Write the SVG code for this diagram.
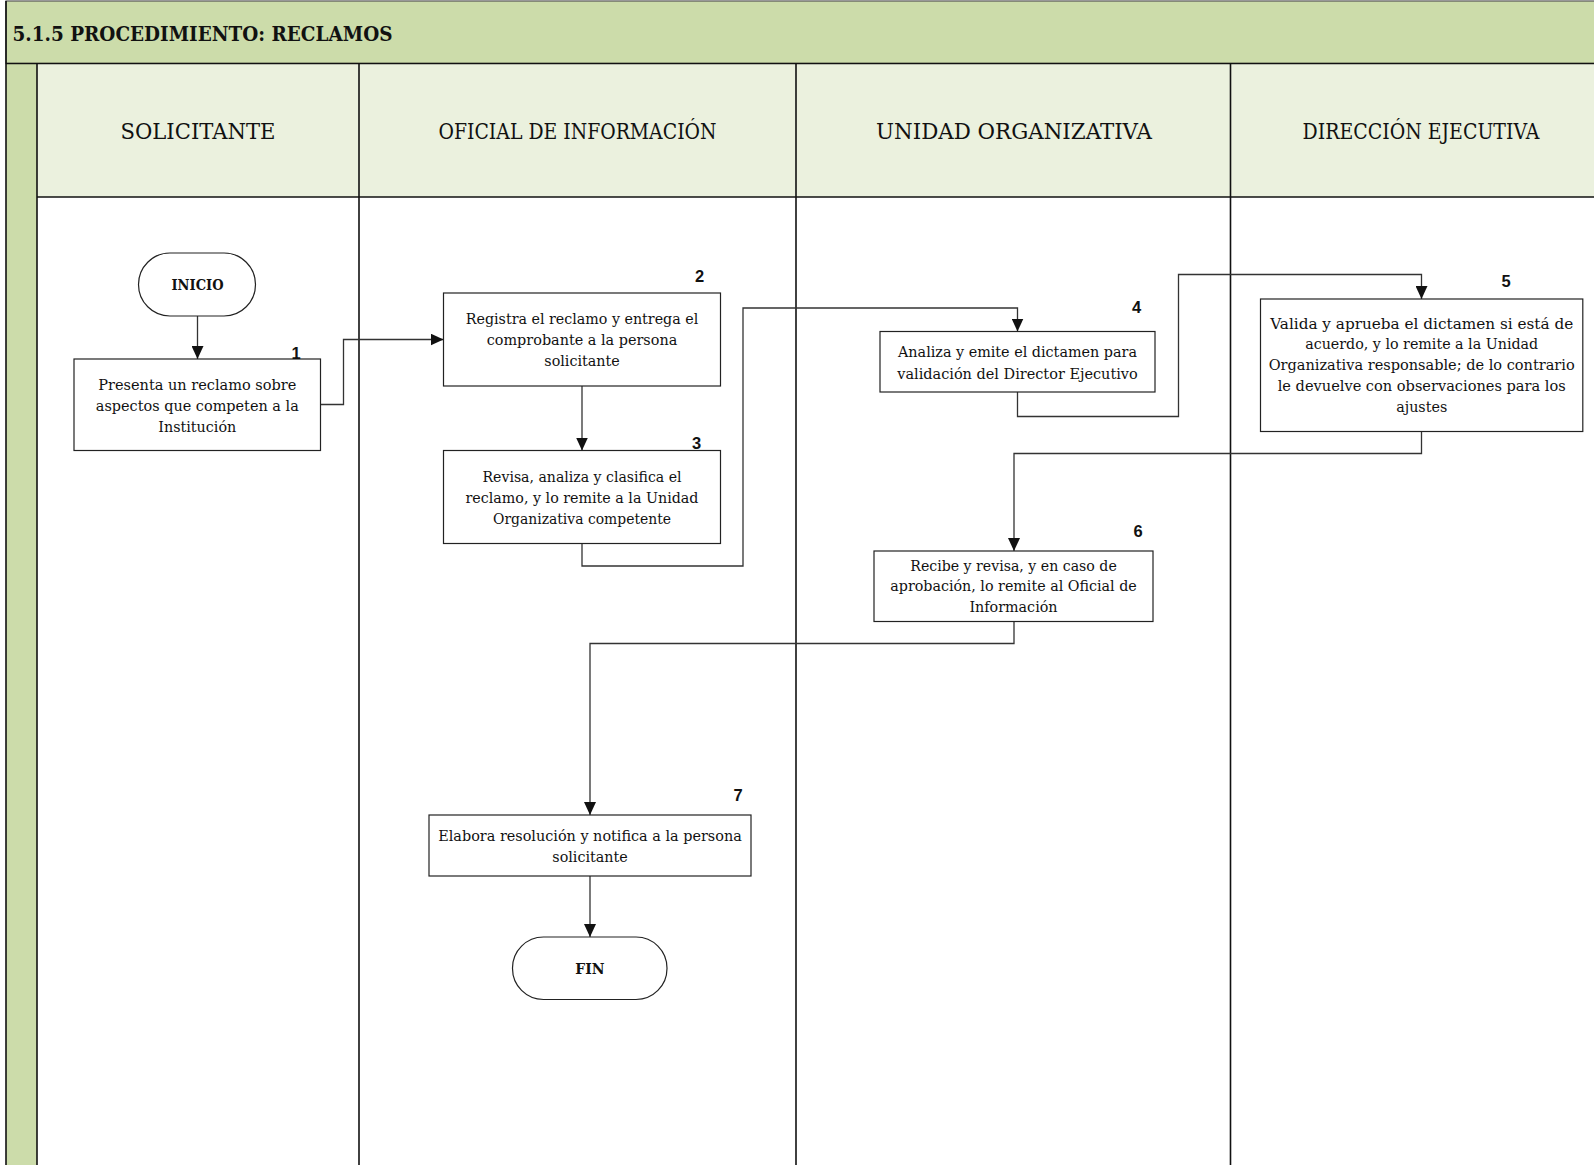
<svg xmlns="http://www.w3.org/2000/svg" width="1594" height="1165" viewBox="0 0 1594 1165">
  <style>
    .lane { fill: none; stroke: #111; stroke-width: 1.6; }
    .box { fill: #fff; stroke: #222; stroke-width: 1.2; }
    .conn { fill: none; stroke: #333; stroke-width: 1.3; }
    .txt { font-family: "DejaVu Serif", "Liberation Serif", serif; font-size: 14.3px; fill: #111; text-anchor: middle; }
    .term { font-family: "DejaVu Serif", "Liberation Serif", serif; font-size: 14px; font-weight: bold; fill: #111; text-anchor: middle; }
    .num { font-family: "Liberation Sans", Arial, sans-serif; font-size: 16.5px; font-weight: bold; fill: #111; text-anchor: middle; }
    .head { font-family: "DejaVu Serif", "Liberation Serif", serif; font-size: 23px; fill: #111; text-anchor: middle; }
    .title { font-family: "DejaVu Serif", "Liberation Serif", serif; font-size: 20px; font-weight: bold; fill: #111; }
  </style>
  <defs>
    <marker id="arrow" markerUnits="userSpaceOnUse" viewBox="0 0 13 12" markerWidth="13" markerHeight="12" refX="13" refY="6" orient="auto">
      <path d="M0,0 L13,6 L0,12 z" fill="#111"/>
    </marker>
  </defs>

  <rect x="0" y="0" width="1594" height="1165" fill="#fff"/>

  <!-- swimlane frame -->
  <g id="frame">
    <rect x="6" y="1" width="1600" height="62.5" fill="#CCDCAA" stroke="#555" stroke-width="1.2"/>
    <text class="title" x="12.5" y="40.5" textLength="380" lengthAdjust="spacingAndGlyphs">5.1.5 PROCEDIMIENTO: RECLAMOS</text>
    <rect x="6" y="63.5" width="31" height="1110" fill="#CCDCAA"/>
    <rect x="37" y="63.5" width="1560" height="133.5" fill="#EBF1DE"/>
    <line class="lane" x1="6" y1="1" x2="6" y2="1165"/>
    <line class="lane" x1="6" y1="63.5" x2="1594" y2="63.5" stroke-width="2"/>
    <line class="lane" x1="37" y1="197" x2="1594" y2="197" stroke-width="1.8"/>
    <line class="lane" x1="37" y1="63.5" x2="37" y2="1165"/>
    <line class="lane" x1="359" y1="63.5" x2="359" y2="1165"/>
    <line class="lane" x1="796" y1="63.5" x2="796" y2="1165"/>
    <line class="lane" x1="1230.5" y1="63.5" x2="1230.5" y2="1165"/>
  </g>

  <!-- lane headers -->
  <g id="lane-solicitante"><text class="head" x="198" y="139" textLength="155" lengthAdjust="spacingAndGlyphs">SOLICITANTE</text></g>
  <g id="lane-oficial"><text class="head" x="577.5" y="139" textLength="278" lengthAdjust="spacingAndGlyphs">OFICIAL DE INFORMACIÓN</text></g>
  <g id="lane-unidad"><text class="head" x="1014" y="139" textLength="276" lengthAdjust="spacingAndGlyphs">UNIDAD ORGANIZATIVA</text></g>
  <g id="lane-direccion"><text class="head" x="1421" y="139" textLength="237" lengthAdjust="spacingAndGlyphs">DIRECCIÓN EJECUTIVA</text></g>

  <!-- connectors -->
  <g id="connectors">
    <path class="conn" d="M197.5,316 V359" marker-end="url(#arrow)"/>
    <path class="conn" d="M320.5,404.5 H343.5 V339.5 H443.5" marker-end="url(#arrow)"/>
    <path class="conn" d="M582,386 V450.5" marker-end="url(#arrow)"/>
    <path class="conn" d="M582,543.5 V566 H743 V308 H1017.5 V331.5" marker-end="url(#arrow)"/>
    <path class="conn" d="M1017.5,392 V416.5 H1178.5 V274.5 H1421.5 V299" marker-end="url(#arrow)"/>
    <path class="conn" d="M1421.5,431.5 V453.5 H1014 V551" marker-end="url(#arrow)"/>
    <path class="conn" d="M1014,621.5 V643.5 H590 V815" marker-end="url(#arrow)"/>
    <path class="conn" d="M590,876 V937" marker-end="url(#arrow)"/>
  </g>

  <!-- start -->
  <g id="inicio">
    <rect class="box" x="138.5" y="253" width="117" height="63" rx="31.5"/>
    <text class="term" x="197.5" y="290" textLength="52" lengthAdjust="spacingAndGlyphs">INICIO</text>
  </g>

  <!-- step 1 -->
  <g id="step1">
    <rect class="box" x="74" y="359" width="246.5" height="91.5"/>
    <text class="num" x="296" y="358.5">1</text>
    <text class="txt" x="197.3" y="389.5" textLength="198" lengthAdjust="spacingAndGlyphs">Presenta un reclamo sobre</text>
    <text class="txt" x="197.3" y="410.5" textLength="203" lengthAdjust="spacingAndGlyphs">aspectos que competen a la</text>
    <text class="txt" x="197.3" y="431.5">Institución</text>
  </g>

  <!-- step 2 -->
  <g id="step2">
    <rect class="box" x="443.5" y="293" width="277" height="93"/>
    <text class="num" x="699.5" y="282">2</text>
    <text class="txt" x="582" y="324" textLength="232.5" lengthAdjust="spacingAndGlyphs">Registra el reclamo y entrega el</text>
    <text class="txt" x="582" y="345" textLength="190.5" lengthAdjust="spacingAndGlyphs">comprobante a la persona</text>
    <text class="txt" x="582" y="366">solicitante</text>
  </g>

  <!-- step 3 -->
  <g id="step3">
    <rect class="box" x="443.5" y="450.5" width="277" height="93"/>
    <text class="num" x="696.5" y="448.5">3</text>
    <text class="txt" x="582" y="481.5" textLength="199" lengthAdjust="spacingAndGlyphs">Revisa, analiza y clasifica el</text>
    <text class="txt" x="582" y="502.5" textLength="233" lengthAdjust="spacingAndGlyphs">reclamo, y lo remite a la Unidad</text>
    <text class="txt" x="582" y="523.5" textLength="178" lengthAdjust="spacingAndGlyphs">Organizativa competente</text>
  </g>

  <!-- step 4 -->
  <g id="step4">
    <rect class="box" x="880" y="331.5" width="275" height="60.5"/>
    <text class="num" x="1136.5" y="312.5">4</text>
    <text class="txt" x="1017.5" y="357" textLength="239" lengthAdjust="spacingAndGlyphs">Analiza y emite el dictamen para</text>
    <text class="txt" x="1017.5" y="378.5" textLength="240.5" lengthAdjust="spacingAndGlyphs">validación del Director Ejecutivo</text>
  </g>

  <!-- step 5 -->
  <g id="step5">
    <rect class="box" x="1260.5" y="299" width="322.3" height="132.5"/>
    <text class="num" x="1506" y="286.5">5</text>
    <text class="txt" x="1421.7" y="328.5" textLength="303" lengthAdjust="spacingAndGlyphs">Valida y aprueba el dictamen si está de</text>
    <text class="txt" x="1421.7" y="349.3" textLength="233" lengthAdjust="spacingAndGlyphs">acuerdo, y lo remite a la Unidad</text>
    <text class="txt" x="1421.7" y="370.1" textLength="306" lengthAdjust="spacingAndGlyphs">Organizativa responsable; de lo contrario</text>
    <text class="txt" x="1421.7" y="390.9" textLength="288" lengthAdjust="spacingAndGlyphs">le devuelve con observaciones para los</text>
    <text class="txt" x="1421.7" y="411.7">ajustes</text>
  </g>

  <!-- step 6 -->
  <g id="step6">
    <rect class="box" x="874" y="551" width="279" height="70.5"/>
    <text class="num" x="1138" y="536.5">6</text>
    <text class="txt" x="1013.5" y="570.5" textLength="206.5" lengthAdjust="spacingAndGlyphs">Recibe y revisa, y en caso de</text>
    <text class="txt" x="1013.5" y="591.3" textLength="246.5" lengthAdjust="spacingAndGlyphs">aprobación, lo remite al Oficial de</text>
    <text class="txt" x="1013.5" y="612.1">Información</text>
  </g>

  <!-- step 7 -->
  <g id="step7">
    <rect class="box" x="429" y="815" width="322" height="61"/>
    <text class="num" x="738" y="800.5">7</text>
    <text class="txt" x="590" y="840.5" textLength="303.5" lengthAdjust="spacingAndGlyphs">Elabora resolución y notifica a la persona</text>
    <text class="txt" x="590" y="861.5">solicitante</text>
  </g>

  <!-- end -->
  <g id="fin">
    <rect class="box" x="512.5" y="937" width="154.5" height="62.5" rx="31"/>
    <text class="term" x="590" y="973.5">FIN</text>
  </g>
</svg>
